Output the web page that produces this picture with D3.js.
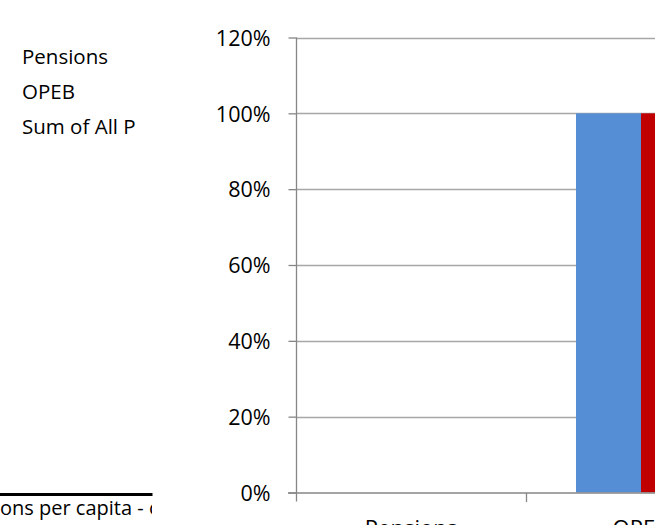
<!DOCTYPE html>
<html>
<head>
<meta charset="utf-8">
<script src="https://cdn.jsdelivr.net/npm/d3@7"></script>
<style>
  html, body { margin: 0; padding: 0; background: #fff; }
  svg { display: block; font-family: "Open Sans", sans-serif; }
</style>
</head>
<body>
<svg id="chart" width="655" height="525"></svg>
<script>
const categories = ["Pensions", "OPEB", "Sum of All Plans"];
const seriesNames = ["Pensions", "OPEB", "Sum of All P"];
const seriesKeys = ["s1", "s2"];
const seriesColors = ["#558ED5", "#C00000"];
const seriesValues = [
  [0, 1.0, 0],
  [0, 1.0, 0]
];
const yTicks = [0, 0.2, 0.4, 0.6, 0.8, 1.0, 1.2];
const footnoteText = "ons per capita - c";

const svg = d3.select("#chart");
const W = 655, H = 525;

const plotLeft = 296, plotTop = 37.5, plotBottom = 492.5;
const bandW = 230;

const x = d3.scaleBand().domain(categories)
  .range([plotLeft, plotLeft + bandW * categories.length])
  .paddingInner(0).paddingOuter(0);
const xInner = d3.scaleBand().domain(seriesKeys)
  .range([0, x.bandwidth()]).paddingInner(0).paddingOuter(0.769);
const y = d3.scaleLinear().domain([0, 1.2]).range([plotBottom, plotTop]);

// gridlines
svg.append("g").selectAll("line").data(yTicks.filter(d => d > 0)).join("line")
  .attr("x1", plotLeft).attr("x2", W + 5)
  .attr("y1", d => Math.round(y(d)) + 0.5).attr("y2", d => Math.round(y(d)) + 0.5)
  .attr("stroke", "#a6a6a6").attr("stroke-width", 1.3);

// bars
const barData = [];
seriesKeys.forEach((k, si) => {
  categories.forEach((c, ci) => {
    barData.push({ k, c, v: seriesValues[si][ci], color: seriesColors[si] });
  });
});
svg.append("g").selectAll("rect").data(barData.filter(d => d.v > 0)).join("rect")
  .attr("x", d => x(d.c) + xInner(d.k))
  .attr("width", xInner.bandwidth())
  .attr("y", d => y(d.v))
  .attr("height", d => y(0) - y(d.v))
  .attr("fill", d => d.color);

// y axis
const yAxis = d3.axisLeft(y).tickValues(yTicks).tickFormat(d3.format(".0%"))
  .tickSizeInner(8).tickSizeOuter(0).tickPadding(18);
const gy = svg.append("g").attr("transform", `translate(${plotLeft + 0.5},0)`).call(yAxis);
gy.select(".domain").remove();
gy.append("line").attr("x1", 0).attr("x2", 0).attr("y1", plotTop).attr("y2", plotBottom + 9)
  .attr("stroke", "#868686").attr("stroke-width", 1.3);
gy.selectAll(".tick line").attr("stroke", "#868686").attr("stroke-width", 1.3);
gy.selectAll(".tick text").attr("font-size", 21.5).attr("fill", "#000")
  .attr("font-family", "Open Sans, sans-serif").attr("dy", "0.36em");

// x axis
const xAxis = d3.axisBottom(x).tickSize(0).tickPadding(27);
const gx = svg.append("g").attr("transform", `translate(0,${plotBottom + 0.5})`).call(xAxis);
gx.select(".domain").remove();
gx.append("line").attr("x1", plotLeft - 8).attr("x2", W + 5).attr("y1", 0).attr("y2", 0)
  .attr("stroke", "#868686").attr("stroke-width", 1.3);
gx.selectAll(".tick text").attr("font-size", 22).attr("fill", "#000")
  .attr("font-family", "Open Sans, sans-serif");
// category boundary ticks
const boundaries = categories.map(c => x(c) + x.bandwidth());
gx.append("g").selectAll("line").data(boundaries).join("line")
  .attr("x1", d => Math.round(d) + 0.5).attr("x2", d => Math.round(d) + 0.5)
  .attr("y1", 0).attr("y2", 9)
  .attr("stroke", "#868686").attr("stroke-width", 1.3);

// legend (text only, clipped)
svg.append("clipPath").attr("id", "legClip").append("rect")
  .attr("x", 0).attr("y", 0).attr("width", 141).attr("height", 200);
svg.append("g").attr("clip-path", "url(#legClip)")
  .selectAll("text").data(seriesNames).join("text")
  .attr("x", 22).attr("y", (d, i) => 64 + i * 35)
  .attr("font-size", 20.5).attr("fill", "#000")
  .text(d => d);

// footnote line and text
svg.append("line").attr("x1", 0).attr("x2", 152.5).attr("y1", 494.5).attr("y2", 494.5)
  .attr("stroke", "#000").attr("stroke-width", 3);
svg.append("clipPath").attr("id", "footClip").append("rect")
  .attr("x", 0).attr("y", 480).attr("width", 152).attr("height", 45);
svg.append("text").attr("clip-path", "url(#footClip)")
  .attr("x", 0).attr("y", 515).attr("font-size", 20).attr("fill", "#000")
  .text(footnoteText);
</script>
</body>
</html>
